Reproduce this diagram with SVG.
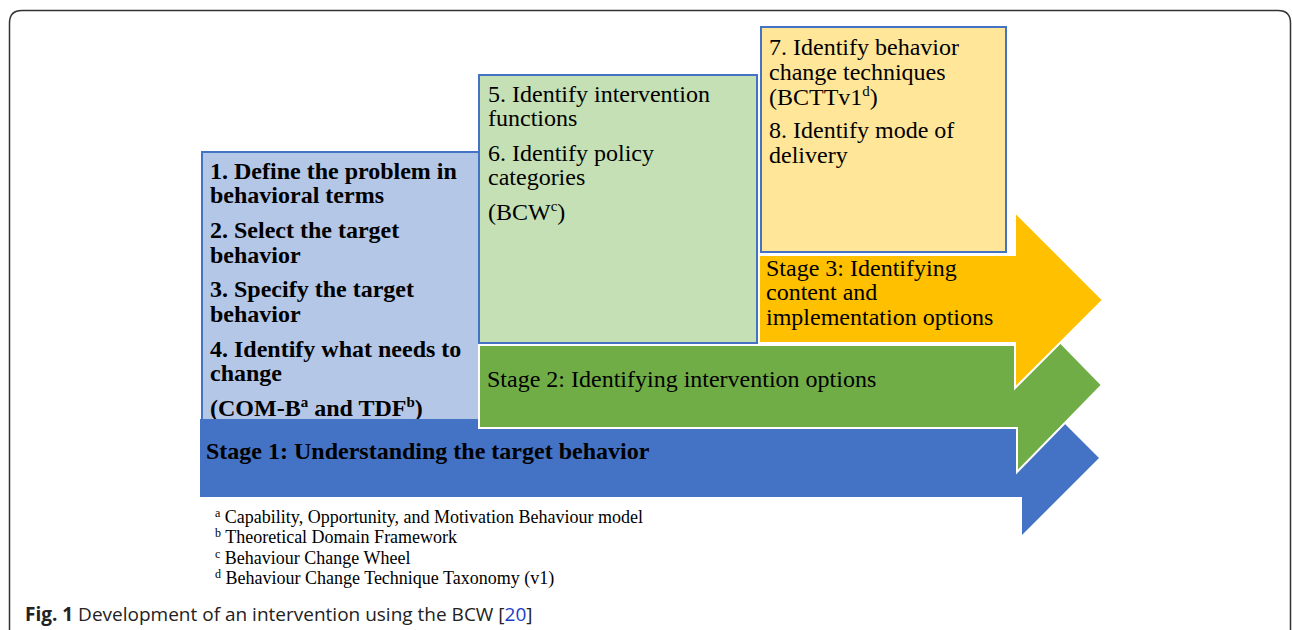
<svg xmlns="http://www.w3.org/2000/svg" width="1292" height="630" viewBox="0 0 1292 630">
<style>
.serif{font-family:"Liberation Serif","Times New Roman",serif;fill:#000}
.b{font-weight:bold}
.box{font-size:24px}
.fn{font-size:18px}
.sup{font-size:15px}
.fsup{font-size:12px}
.cap{font-family:"Open Sans","Noto Sans",sans-serif;font-size:19px;fill:#222}
.panel{stroke:#4472C4;stroke-width:2}
</style>
<rect width="1292" height="630" fill="#fff"/>
<path d="M9.5,640 V23 Q9.5,10.5 22,10.5 H1278 Q1290.5,10.5 1290.5,23 V640" fill="none" stroke="#333" stroke-width="1.5"/>

<g id="step1-4">
<rect class="panel" x="202" y="152" width="277" height="275" fill="#B4C7E7"/>
<text class="serif b box" x="210" y="179">1. Define the problem in</text>
<text class="serif b box" x="210" y="203">behavioral terms</text>
<text class="serif b box" x="210" y="238">2. Select the target</text>
<text class="serif b box" x="210" y="263">behavior</text>
<text class="serif b box" x="210" y="297">3. Specify the target</text>
<text class="serif b box" x="210" y="322">behavior</text>
<text class="serif b box" x="210" y="357">4. Identify what needs to</text>
<text class="serif b box" x="210" y="381">change</text>
<text class="serif b box" x="210" y="416">(COM-B<tspan class="sup" dy="-9">a</tspan><tspan dy="9"> and TDF</tspan><tspan class="sup" dy="-9">b</tspan><tspan dy="9">)</tspan></text>
</g>

<g id="connectors">
<g id="stage1">
<path d="M200,419 H1022 V381 L1099,458 L1022,535 V497 H200 Z" fill="#4472C4"/>
<text class="serif b box" x="206" y="459">Stage 1: Understanding the target behavior</text>
</g>
<g id="stage2">
<path d="M479,345 H1017 V298 L1102,385 L1017,472 V428 H479 Z" fill="#70AD47" stroke="#fff" stroke-width="2"/>
<text class="serif box" x="487" y="387">Stage 2: Identifying intervention options</text>
</g>
<g id="stage3">
<path d="M759,255 H1015 V212 L1103,300 L1015,388 V343 H759 Z" fill="#FFC000" stroke="#fff" stroke-width="2"/>
<text class="serif box" x="766" y="276">Stage 3: Identifying</text>
<text class="serif box" x="766" y="300">content and</text>
<text class="serif box" x="766" y="325">implementation options</text>
</g>
</g>

<g id="step5-6">
<rect class="panel" x="479" y="75" width="278" height="268" fill="#C5E0B4"/>
<text class="serif box" x="488" y="102">5. Identify intervention</text>
<text class="serif box" x="488" y="126">functions</text>
<text class="serif box" x="488" y="161">6. Identify policy</text>
<text class="serif box" x="488" y="185">categories</text>
<text class="serif box" x="488" y="220">(BCW<tspan class="sup" dy="-9">c</tspan><tspan dy="9">)</tspan></text>
</g>

<g id="step7-8">
<rect class="panel" x="761" y="27" width="245" height="225" fill="#FFE699"/>
<text class="serif box" x="769" y="55">7. Identify behavior</text>
<text class="serif box" x="769" y="80">change techniques</text>
<text class="serif box" x="769" y="105">(BCTTv1<tspan class="sup" dy="-9">d</tspan><tspan dy="9">)</tspan></text>
<text class="serif box" x="769" y="138">8. Identify mode of</text>
<text class="serif box" x="769" y="163">delivery</text>
</g>

<g id="footnotes">
<text class="serif fn" x="215" y="523"><tspan class="fsup" dy="-6">a</tspan><tspan dy="6"> Capability, Opportunity, and Motivation Behaviour model</tspan></text>
<text class="serif fn" x="215" y="543"><tspan class="fsup" dy="-6">b</tspan><tspan dy="6"> Theoretical Domain Framework</tspan></text>
<text class="serif fn" x="215" y="564"><tspan class="fsup" dy="-6">c</tspan><tspan dy="6"> Behaviour Change Wheel</tspan></text>
<text class="serif fn" x="215" y="584"><tspan class="fsup" dy="-6">d</tspan><tspan dy="6"> Behaviour Change Technique Taxonomy (v1)</tspan></text>
</g>

<g id="caption">
<text class="cap" x="25" y="621"><tspan font-weight="bold" fill="#222">Fig. 1</tspan> Development of an intervention using the BCW [<tspan fill="#1a3cc8">20</tspan>]</text>
</g>
</svg>
